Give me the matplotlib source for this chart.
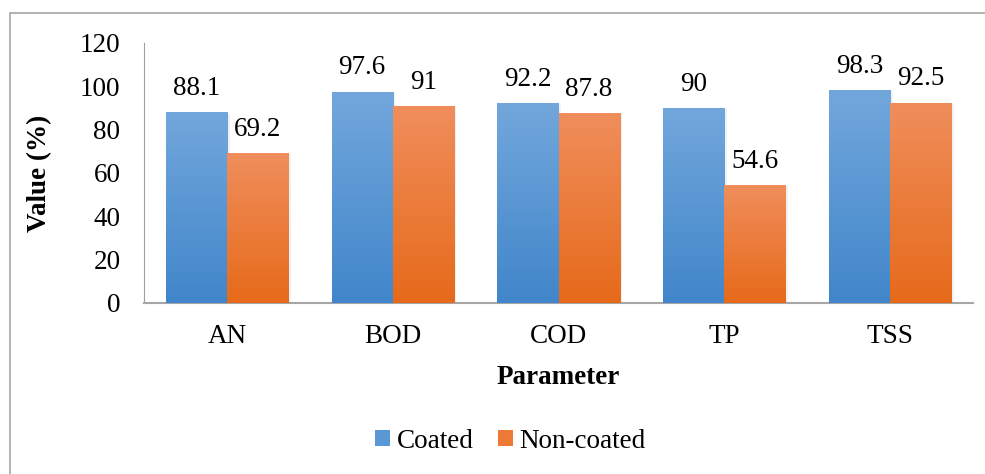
import matplotlib.pyplot as plt
import matplotlib.patheffects as pe
from matplotlib.patches import Rectangle, Patch
from matplotlib.colors import LinearSegmentedColormap
import numpy as np

plt.rcParams['font.family'] = ['Liberation Serif', 'DejaVu Serif']

params = ['AN', 'BOD', 'COD', 'TP', 'TSS']
coated = [88.1, 97.6, 92.2, 90, 98.3]
non_coated = [69.2, 91, 87.8, 54.6, 92.5]
series_names = ['Coated', 'Non-coated']

# gradient colours (top, bottom) like the excel fill
blue_top, blue_bot = '#72A7DC', '#4186CA'
orange_top, orange_bot = '#F08E5C', '#E66A1A'

fs = 19.5

fig = plt.figure(figsize=(9.85, 4.74), dpi=100)
ax = fig.add_axes([144/985, 1 - 303/474, (973-144)/985, (303-43)/474])

# grey frame round the chart area
fig.patches.append(Rectangle((10/985, -0.1), 1.2, 1 - 13/474 + 0.1,
                             transform=fig.transFigure, fill=False,
                             edgecolor='#A6A6A6', linewidth=1.2))

x = np.arange(len(params))
w = 0.368
grad = np.linspace(0, 1, 256).reshape(-1, 1)


def draw(xpos, vals, top, bot, label):
    cmap = LinearSegmentedColormap.from_list(label, [bot, top])
    bars = ax.bar(xpos, vals, w, color=bot, label=label, zorder=2,
                  path_effects=[pe.SimplePatchShadow(offset=(2, -1), alpha=0.1,
                                                     shadow_rgbFace='#777777'),
                                pe.Normal()])
    for b, v in zip(bars, vals):
        im = ax.imshow(grad, cmap=cmap, origin='lower', aspect='auto',
                       extent=[b.get_x(), b.get_x() + b.get_width(), 0, v],
                       zorder=3)
        im.set_clip_path(b)
        ax.annotate(f'{v:g}', (b.get_x() + b.get_width() / 2, v),
                    xytext=(0, 8), textcoords='offset points',
                    ha='center', va='bottom', fontsize=fs)
    return bars


draw(x - w/2, coated, blue_top, blue_bot, series_names[0])
draw(x + w/2, non_coated, orange_top, orange_bot, series_names[1])

ax.set_xlim(-0.5, len(params) - 0.5)
ax.set_ylim(0, 120)
ax.set_yticks(range(0, 121, 20))
ax.set_xticks(x)
ax.set_xticklabels(params)
ax.tick_params(axis='y', length=0, pad=17, labelsize=fs)
ax.tick_params(axis='x', length=0, pad=15, labelsize=fs)

for s in ['top', 'right']:
    ax.spines[s].set_visible(False)
ax.spines['left'].set_color('#A0A0A0')
ax.spines['bottom'].set_color('#A6A6A6')
ax.spines['bottom'].set_linewidth(1.5)

ax.set_ylabel('Value (%)', fontsize=fs, fontweight='bold', labelpad=20)
ax.set_xlabel('Parameter', fontsize=fs, fontweight='bold', labelpad=12)

handles = [Patch(facecolor='#5A97D5', label=series_names[0]),
           Patch(facecolor='#EC7A35', label=series_names[1])]
fig.legend(handles=handles, loc='center', bbox_to_anchor=(0.518, 1 - 441/474),
           ncol=2, frameon=False, fontsize=fs, handlelength=0.55, handleheight=0.55,
           handletextpad=0.25, columnspacing=0.9)

fig.savefig('out.png', dpi=100)
